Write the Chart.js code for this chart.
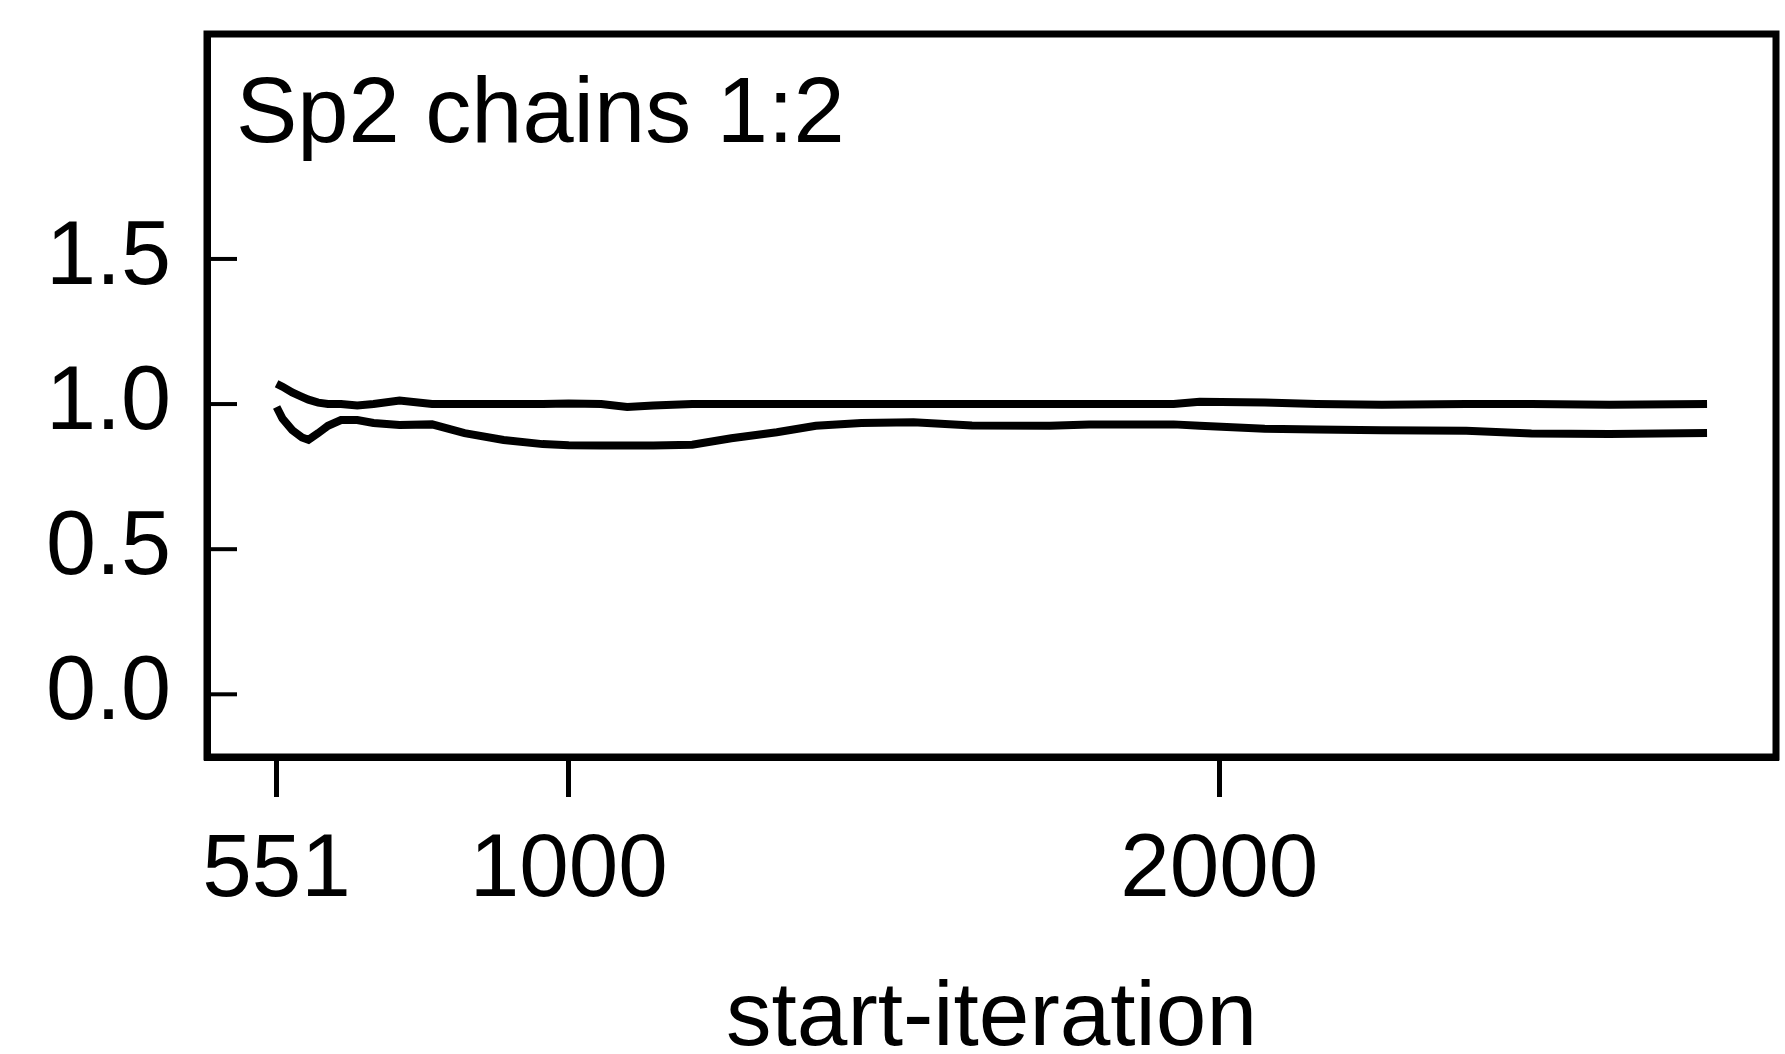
<!DOCTYPE html>
<html>
<head>
<meta charset="utf-8">
<script src="https://cdn.jsdelivr.net/npm/chart.js@4.4.1/dist/chart.umd.min.js"></script>
<style>
  html, body { margin: 0; padding: 0; background: #ffffff; }
  canvas { display: block; }
</style>
</head>
<body>
<canvas id="c" width="1785" height="1054"></canvas>
<script>
const iterations = [551, 560, 575, 590, 600, 615, 630, 650, 675, 700, 740, 790, 840, 900, 960, 1000, 1050, 1090, 1130, 1190, 1250, 1320, 1380, 1450, 1530, 1620, 1740, 1800, 1930, 1970, 2070, 2150, 2250, 2380, 2480, 2600, 2750];
const upperSeries = [1.07, 1.06, 1.04, 1.025, 1.015, 1.005, 1.0, 1.0, 0.995, 1.0, 1.012, 1.0, 1.0, 1.0, 1.0, 1.002, 1.0, 0.99, 0.995, 1.0, 1.0, 1.0, 1.0, 1.0, 1.0, 1.0, 1.0, 1.0, 1.0, 1.008, 1.005, 1.0, 0.998, 1.0, 1.0, 0.998, 1.0];
const lowerSeries = [0.99, 0.95, 0.91, 0.885, 0.877, 0.9, 0.925, 0.945, 0.945, 0.935, 0.928, 0.93, 0.9, 0.876, 0.862, 0.858, 0.857, 0.857, 0.857, 0.86, 0.882, 0.903, 0.925, 0.935, 0.937, 0.926, 0.925, 0.93, 0.93, 0.925, 0.915, 0.912, 0.91, 0.908, 0.899, 0.897, 0.9];
const xTickValues = [551, 1000, 2000];
const yTickValues = [0.0, 0.5, 1.0, 1.5];
const panelLabel = "Sp2 chains 1:2";
const xAxisTitle = "start-iteration";

const FONT = "'Liberation Sans', Arial, sans-serif";

const boxPlugin = {
  id: 'boxPlugin',
  afterDraw(chart) {
    const { ctx, chartArea, scales } = chart;
    ctx.save();
    ctx.strokeStyle = '#000';
    ctx.lineWidth = 7;
    ctx.strokeRect(chartArea.left, chartArea.top, chartArea.right - chartArea.left, chartArea.bottom - chartArea.top);
    // inward y ticks
    ctx.lineWidth = 4;
    yTickValues.forEach(v => {
      const y = scales.y.getPixelForValue(v);
      ctx.beginPath();
      ctx.moveTo(chartArea.left, y);
      ctx.lineTo(chartArea.left + 30, y);
      ctx.stroke();
    });
    // panel label
    ctx.fillStyle = '#000';
    ctx.font = "92px " + FONT;
    ctx.textBaseline = 'alphabetic';
    ctx.textAlign = 'left';
    ctx.fillText(panelLabel, chartArea.left + 29, 142);
    ctx.restore();
  }
};

new Chart(document.getElementById('c'), {
  type: 'line',
  data: {
    datasets: [
      {
        data: iterations.map((x, i) => ({ x: x, y: upperSeries[i] })),
        borderColor: '#000', borderWidth: 8, pointRadius: 0, tension: 0, fill: false
      },
      {
        data: iterations.map((x, i) => ({ x: x, y: lowerSeries[i] })),
        borderColor: '#000', borderWidth: 8, pointRadius: 0, tension: 0, fill: false
      }
    ]
  },
  options: {
    responsive: false,
    animation: false,
    devicePixelRatio: 1,
    layout: { padding: { top: 34, right: 9, left: 0, bottom: 0 } },
    plugins: { legend: { display: false }, tooltip: { enabled: false }, title: { display: false } },
    scales: {
      x: {
        type: 'linear',
        min: 444, max: 2856,
        afterBuildTicks: s => { s.ticks = xTickValues.map(v => ({ value: v })); },
        afterFit: s => { s.height = 297; s.paddingLeft = 0; s.paddingRight = 0; },
        grid: { display: true, drawOnChartArea: false, drawTicks: true, tickLength: 40, lineWidth: 5, color: '#000' },
        border: { display: true, width: 7, color: '#000' },
        ticks: { color: '#000', font: { family: FONT, size: 89 }, padding: 21, maxRotation: 0, autoSkip: false,
                 callback: v => String(v) },
        title: { display: true, text: xAxisTitle, color: '#000', font: { family: FONT, size: 91, lineHeight: 0.6 },
                 padding: { top: 0, bottom: 7 } }
      },
      y: {
        type: 'linear',
        min: -0.216, max: 2.275,
        afterBuildTicks: s => { s.ticks = yTickValues.map(v => ({ value: v })); },
        afterFit: s => { s.width = 207; s.paddingTop = 0; s.paddingBottom = 0; },
        grid: { display: false, drawTicks: false },
        border: { display: true, width: 7, color: '#000' },
        ticks: { color: '#000', font: { family: FONT, size: 90 }, padding: 36,
                 callback: v => v.toFixed(1) }
      }
    }
  },
  plugins: [boxPlugin]
});
</script>
</body>
</html>
